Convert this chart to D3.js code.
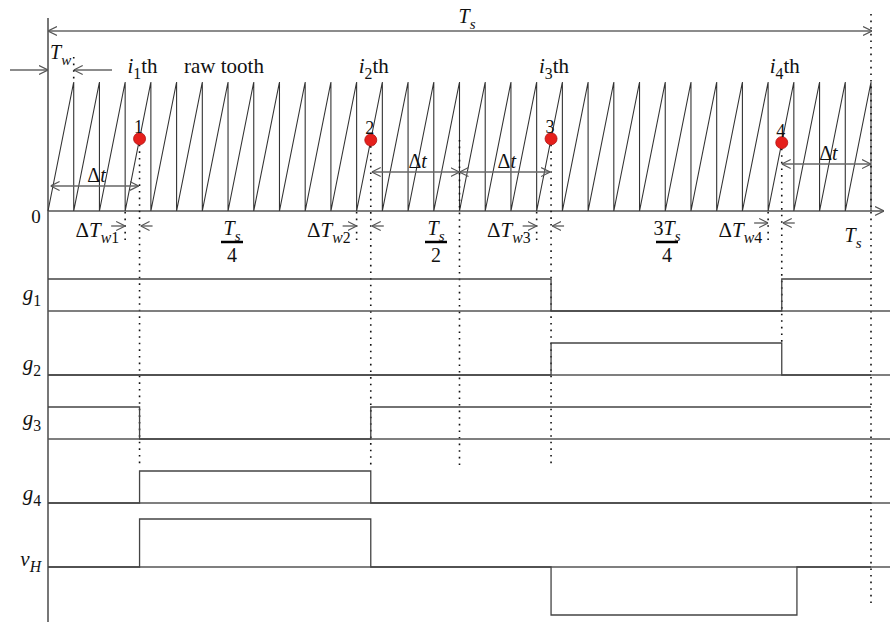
<!DOCTYPE html>
<html lang="en">
<head>
<meta charset="UTF-8">
<title>Sawtooth sampling timing</title>
<script src="https://d3js.org/d3.v7.min.js"></script>
<style>
  body { margin: 0; background: #fff; overflow: hidden; }
  svg { display: block; }
  text { font-family: "Liberation Serif", "DejaVu Serif", serif; fill: #111; }
</style>
</head>
<body>
<script>
// carrier: teeth in one period Ts (time measured in tooth units)
const toothCount = 32;
// sampled points 1..4 on the ramps
const events = [3.56, 12.55, 19.56, 28.53];
const eventNames = ["1", "2", "3", "4"];
const eventSubs = ["1", "2", "3", "4"];
// ramp start before each sample (ΔTw markers)
const twMarks = [3, 12, 19, 28];
const halfPeriod = 16;
const vhNegEnd = 29.12;

// gate signals as [time, level] steps
const g1 = [[0, 1], [events[2], 0], [events[3], 1], [toothCount, 1]];
const g2 = [[0, 0], [events[2], 1], [events[3], 0], [toothCount, 0]];
const g3 = [[0, 1], [events[0], 0], [events[1], 1], [toothCount, 1]];
const g4 = [[0, 0], [events[0], 1], [events[1], 0], [toothCount, 0]];
const vH = [[0, 0], [events[0], 1], [events[1], 0], [events[2], -1], [vhNegEnd, 0], [toothCount, 0]];

// Δt spans
const deltaSpans = [[0.1, events[0]], [events[1], halfPeriod], [halfPeriod, events[2]], [events[3], toothCount]];

const W = 890, H = 622;
const svg = d3.select("body").append("svg").attr("width", W).attr("height", H);

const x = d3.scaleLinear().domain([0, toothCount]).range([48, 871]);
const yRamp = d3.scaleLinear().domain([0, 1]).range([211, 82]);

const defs = svg.append("defs");
defs.append("marker")
    .attr("id", "arr")
    .attr("viewBox", "0 -6 10 12")
    .attr("refX", 10).attr("refY", 0)
    .attr("markerUnits", "userSpaceOnUse")
    .attr("markerWidth", 9).attr("markerHeight", 11)
    .attr("orient", "auto-start-reverse")
    .append("path")
    .attr("d", "M0,-5L10,0L0,5")
    .attr("fill", "none").attr("stroke", "#555").attr("stroke-width", 1.3);

function line(x1, y1, x2, y2, color, w) {
    return svg.append("line")
        .attr("x1", x1).attr("y1", y1).attr("x2", x2).attr("y2", y2)
        .attr("stroke", color || "#555").attr("stroke-width", w || 1.5);
}

function arrow(x1, y1, x2, y2, both) {
    const l = line(x1, y1, x2, y2, "#666", 1.4).attr("marker-end", "url(#arr)");
    if (both) l.attr("marker-start", "url(#arr)");
    return l;
}

function dotted(xp, y1, y2) {
    return line(xp, y1, xp, y2, "#111", 1.6).attr("stroke-dasharray", "1.6,5");
}

// parts: [text, flags] where flags has "i" italic, "s" subscript
function label(xp, yp, parts, size, anchor) {
    const t = svg.append("text").attr("x", xp).attr("y", yp)
        .attr("font-size", size).attr("text-anchor", anchor || "start");
    let shift = 0;
    parts.forEach(([str, fmt]) => {
        const sub = fmt.includes("s");
        const target = sub ? size * 0.28 : 0;
        t.append("tspan").text(str)
            .attr("dy", target - shift)
            .attr("font-size", sub ? size * 0.75 : size)
            .attr("font-style", fmt.includes("i") ? "italic" : "normal");
        shift = target;
    });
    return t;
}

function fraction(cx, num, den) {
    label(cx, 235, num, 20, "middle");
    line(cx - 11, 242, cx + 11, 242, "#000", 2.5);
    label(cx, 262, den, 20, "middle");
}

// axes
line(48, 18, 48, 622, "#555", 1.6);
line(48, 211, 884, 211, "#555", 1.6).attr("marker-end", "url(#arr)");
label(36, 223, [["0", ""]], 19, "middle");

// Ts span on top
arrow(48, 31, 872, 31, true);
label(467, 23, [["T", "i"], ["s", "is"]], 20, "middle");

// Tw marker
arrow(10, 70, 48, 70);
arrow(112, 70, x(1), 70);
label(50, 59, [["T", "i"], ["w", "is"]], 20);
dotted(x(1), 57, 82);

// sawtooth carrier
const teeth = [[0, 0]];
d3.range(toothCount).forEach(k => { teeth.push([k + 1, 1]); teeth.push([k + 1, 0]); });
svg.append("path")
    .attr("d", d3.line().x(d => x(d[0])).y(d => yRamp(d[1]))(teeth))
    .attr("fill", "none").attr("stroke", "#333").attr("stroke-width", 1.1);

// headings
label(184, 73, [["raw tooth", ""]], 21);
events.forEach((e, i) => {
    label(x(e) + 3, 73, [["i", "i"], [eventSubs[i], "s"], ["th", ""]], 21, "middle");
});

// signal rows
const rows = [
    { name: [["g", "i"], ["1", "s"]], data: g1, base: 311, amp: 32, ly: 300 },
    { name: [["g", "i"], ["2", "s"]], data: g2, base: 375, amp: 32, ly: 370 },
    { name: [["g", "i"], ["3", "s"]], data: g3, base: 439, amp: 32, ly: 425 },
    { name: [["g", "i"], ["4", "s"]], data: g4, base: 503, amp: 32, ly: 500 },
    { name: [["v", "i"], ["H", "is"]], data: vH, base: 567, amp: 48, ly: 566 }
];

// dotted guides
twMarks.forEach(t => dotted(x(t), 212, 245));
events.forEach((e, i) => {
    const yDot = yRamp(e - Math.floor(e));
    dotted(x(e), yDot + 6, i === 3 ? 343 : 466);
});
dotted(x(halfPeriod), 140, 468);
dotted(x(toothCount), 14, 605);

rows.forEach(r => {
    const y = d3.scaleLinear().domain([0, 1]).range([r.base, r.base - r.amp]);
    line(48, r.base, 890, r.base, "#555", 1.5);
    svg.append("path")
        .attr("d", d3.line().curve(d3.curveStepAfter).x(d => x(d[0])).y(d => y(d[1]))(r.data))
        .attr("fill", "none").attr("stroke", "#444").attr("stroke-width", 1.3);
    label(41, r.ly, r.name, 21, "end");
});

// Δt spans
const spanY = [0.194, 0.302, 0.302, 0.364];
deltaSpans.forEach(([a, b], i) => {
    const yy = yRamp(spanY[i]);
    const x1 = x(a) + (i === 1 ? 1 : 0), x2 = x(b) - (i === 0 || i === 2 ? 1 : 0);
    arrow(x1, yy, x2, yy, true);
    label((x1 + x2) / 2 + 2, yy - 4, [["Δ", ""], ["t", "i"]], 20, "middle");
});

// ΔTw markers
twMarks.forEach((t, i) => {
    const xm = x(t), xe = x(events[i]);
    const ay = i === 3 ? 223 : 226;
    arrow(xm - 14, ay, xm, ay);
    arrow(xe + 13, ay, xe + 1, ay);
    label(xm - 6, 237, [["Δ", ""], ["T", "i"], ["w", "is"], [eventSubs[i], "s"]], 21, "end");
});

// fractions of Ts
fraction(232, [["T", "i"], ["s", "is"]], [["4", ""]]);
fraction(436, [["T", "i"], ["s", "is"]], [["2", ""]]);
fraction(667, [["3", ""], ["T", "i"], ["s", "is"]], [["4", ""]]);
label(853, 242, [["T", "i"], ["s", "is"]], 20, "middle");

// sampled points
events.forEach((e, i) => {
    const cx = x(e), cy = yRamp(e - Math.floor(e));
    svg.append("circle").attr("cx", cx).attr("cy", cy).attr("r", 6)
        .attr("fill", "#e5201c").attr("stroke", "#b01010").attr("stroke-width", 0.8);
    label(cx - 1, cy - 6, [[eventNames[i], ""]], 18, "middle");
});
</script>
</body>
</html>
